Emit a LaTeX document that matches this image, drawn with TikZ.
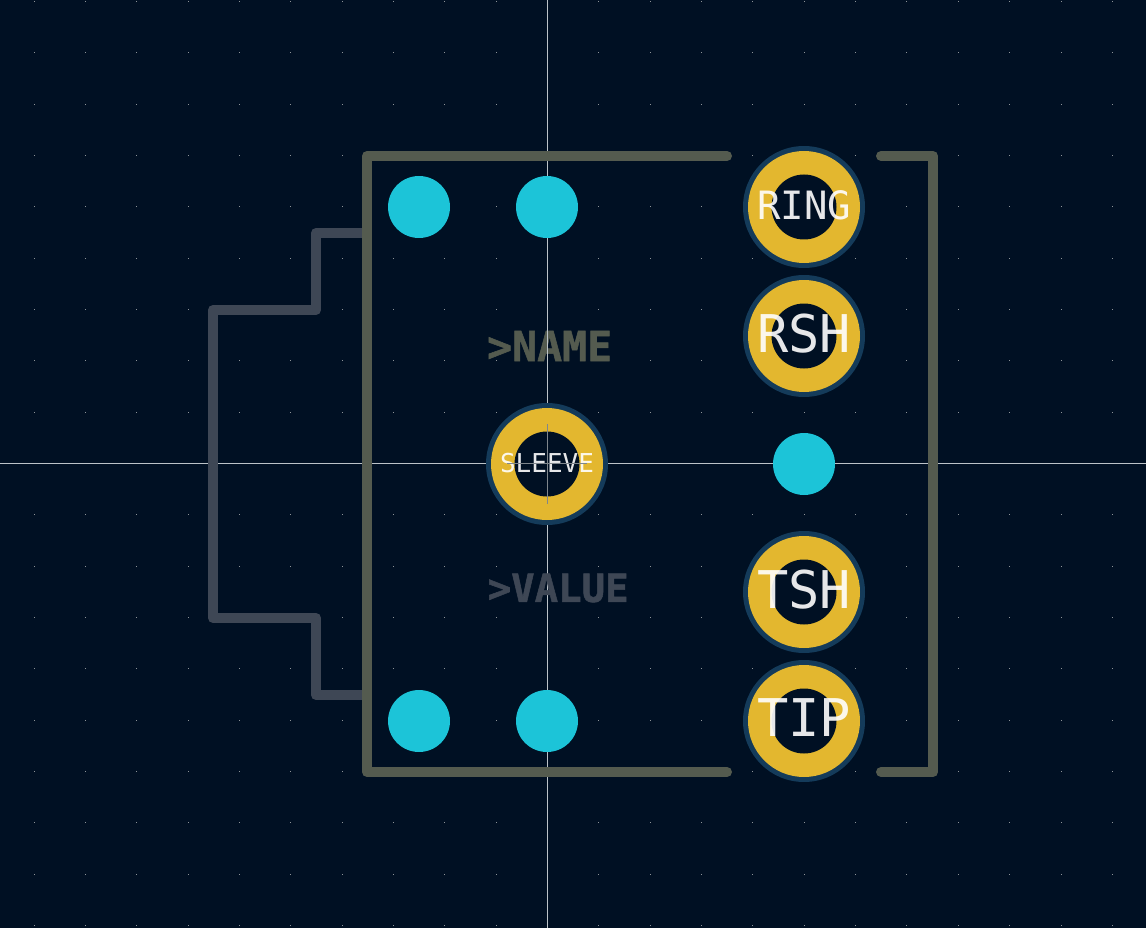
\documentclass[tikz,border=0pt]{standalone}
\usepackage{fontspec}
\setmainfont{DejaVu Sans Mono}[BoldFeatures={FakeBold=1.3}]
\definecolor{bgc}{HTML}{001023}
\definecolor{olive}{HTML}{545B4F}
\definecolor{slate}{HTML}{3E4755}
\definecolor{cyanpad}{HTML}{1CC4D8}
\definecolor{goldpad}{HTML}{E3B72F}
\definecolor{ringc}{HTML}{143B5A}
\definecolor{griddot}{HTML}{8E9499}
\definecolor{crossc}{HTML}{BCC3C8}
\definecolor{crossin}{HTML}{7F868C}
\tikzset{
  x=1pt,y=-1pt,
  lineolive/.style={draw=olive,line width=10pt,line cap=round,line join=round},
  lineslate/.style={draw=slate,line width=10pt,line cap=round,line join=round},
  via/.style={circle,fill=cyanpad,minimum size=62pt,inner sep=0pt},
  padhalo/.style={circle,fill=ringc,minimum size=122pt,inner sep=0pt},
  padgold/.style={circle,fill=goldpad,minimum size=112pt,inner sep=0pt},
  padhole/.style={circle,fill=bgc,minimum size=65pt,inner sep=0pt},
  padtext/.style={text=white,text opacity=.9,inner sep=0pt,anchor=center},
  silk/.style={inner sep=0pt,anchor=west},
}
\begin{document}
\begin{tikzpicture}
\useasboundingbox (0,0) rectangle (1146,928);
\fill[bgc] (0,0) rectangle (1146,928);
% grid
\foreach \i in {-10,...,11}{
  \foreach \j in {-9,...,9}{
    \fill[griddot] ({547.5+\i*51.35-.5},{463.5+\j*51.35-.5}) rectangle +(1,1);
  }
}
% silk text beneath the crosshair
\node[silk,text=olive,font=\bfseries\fontsize{41.5}{41.5}\selectfont] (nm) at (487,346) {>NAME};
% crosshair
\draw[crossc,line width=1.2pt] (547.5,0) -- (547.5,928);
\draw[crossc,line width=1.2pt] (0,463.5) -- (1146,463.5);
% silk text above the crosshair
\node[silk,text=slate,font=\bfseries\fontsize{39}{39}\selectfont] (vl) at (487.5,588) {>VALUE};
% courtyard and outline
\draw[lineslate] (367,233) -- (316,233) -- (316,310) -- (213,310) -- (213,618) -- (316,618) -- (316,695) -- (367,695);
\draw[lineolive] (727,156) -- (367,156) -- (367,772) -- (727,772);
\draw[lineolive] (881,156) -- (933,156) -- (933,772) -- (881,772);
% vias
\node[via] (v1) at (419,207) {};
\node[via] (v2) at (547,207) {};
\node[via] (v3) at (419,721) {};
\node[via] (v4) at (547,721) {};
\node[via] (v5) at (804,464) {};
% pads
\foreach \n/\x/\y in {ring/804/207,rsh/804/336,sleeve/547/464,tsh/804/592,tip/804/721}{
  \node[padhalo] (\n halo) at (\x,\y) {};
  \node[padgold] (\n gold) at (\x,\y) {};
  \node[padhole] (\n hole) at (\x,\y) {};
}
% labels
\node[padtext,font=\fontsize{39}{39}\selectfont] (ringt) at (804,205.5) {RING};
\node[padtext,font=\fontsize{52}{52}\selectfont] (rsht) at (804,334) {RSH};
\node[padtext,font=\fontsize{26}{26}\selectfont] (sleevet) at (547,463) {SLEEVE};
\node[padtext,font=\fontsize{52}{52}\selectfont] (tsht) at (804,590) {TSH};
\node[padtext,font=\fontsize{52}{52}\selectfont] (tipt) at (804,718) {TIP};
% pad centre cross
\draw[crossin,line width=1pt] (547.5,424) -- (547.5,504);
\draw[crossin,line width=1pt] (507,463.5) -- (587,463.5);
\end{tikzpicture}
\end{document}
